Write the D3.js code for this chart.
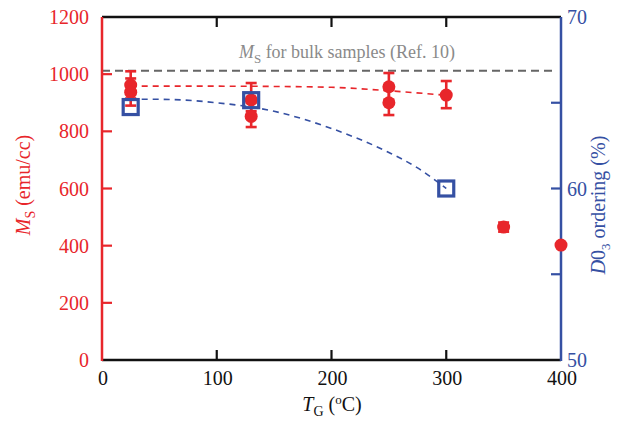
<!DOCTYPE html>
<html><head><meta charset="utf-8">
<script src="https://cdn.jsdelivr.net/npm/d3@7"></script>
<style>body{margin:0;background:#fff}svg{display:block}</style>
</head><body><svg id="c" width="620" height="425" font-family="'Liberation Serif', 'Times New Roman', Times, serif"></svg>
<script>
// Data
const xTicks = [0, 100, 200, 300, 400];
const msTicks = [0, 200, 400, 600, 800, 1000, 1200];
const ordTicks = [50, 55, 60, 65, 70];
const ordLabels = [50, 60, 70];
// Ms points (emu/cc) with error bars
const msT    = [25, 25, 130, 130, 250, 250, 300, 350, 400];
const msVal  = [962, 937, 910, 852, 956, 900, 927, 465, 402];
const msLow  = [915, 890, 870, 815, 910, 857, 881, 449, 402];
const msHigh = [1010, 985, 969, 900, 1004, 945, 976, 481, 402];
// D0_3 ordering (%)
const ordT   = [25, 130, 300];
const ordVal = [64.75, 65.15, 60.0];
// Guide (fit) curves
const msFitT   = [25, 100, 150, 200, 250, 300];
const msFitV   = [958, 958, 957, 954, 942, 926];
const ordFitT  = [25, 50, 100, 150, 200, 250, 275, 300];
const ordFitV  = [65.2, 65.2, 65.0, 64.5, 63.5, 62.1, 61.2, 60.0];
const bulkMs = 1012;

const red = "#e8262b", blue = "#3550a3", black = "#111";
const svg = d3.select("#c");
const L = 102, R = 561, T = 17, B = 360;
const x = d3.scaleLinear().domain([0, 400]).range([L, R]);
const yL = d3.scaleLinear().domain([0, 1200]).range([B, T]);
const yR = d3.scaleLinear().domain([50, 70]).range([B, T]);
const FS = 20;

// fit curves
const line = (ys) => d3.line().x(d => x(d[0])).y(d => ys(d[1])).curve(d3.curveMonotoneX);
svg.append("path").attr("d", line(yR)(ordFitT.map((t,i)=>[t, ordFitV[i]])))
  .attr("fill","none").attr("stroke",blue).attr("stroke-width",1.6).attr("stroke-dasharray","6,5");
svg.append("path").attr("d", line(yL)(msFitT.map((t,i)=>[t, msFitV[i]])))
  .attr("fill","none").attr("stroke",red).attr("stroke-width",1.6).attr("stroke-dasharray","6,5");
// bulk line
svg.append("line").attr("x1",x(0)).attr("x2",x(395)).attr("y1",yL(bulkMs)).attr("y2",yL(bulkMs))
  .attr("stroke","#666").attr("stroke-width",1.8).attr("stroke-dasharray","8,5");
const bt = svg.append("text").attr("x",347).attr("y",58).attr("text-anchor","middle")
  .attr("fill","#8a8a8a").attr("font-size",18);
bt.append("tspan").attr("font-style","italic").text("M");
bt.append("tspan").attr("font-size",13).attr("dy",5).text("S");
bt.append("tspan").attr("dy",-5).text(" for bulk samples (Ref. 10)");

// axes frame
const g = svg.append("g");
g.append("line").attr("x1",L).attr("x2",R).attr("y1",T).attr("y2",T).attr("stroke",black).attr("stroke-width",2.5);
g.append("line").attr("x1",L).attr("x2",R).attr("y1",B).attr("y2",B).attr("stroke",black).attr("stroke-width",2.5);
g.append("line").attr("x1",L).attr("x2",L).attr("y1",T).attr("y2",B+1).attr("stroke",red).attr("stroke-width",2.5);
g.append("line").attr("x1",R).attr("x2",R).attr("y1",T).attr("y2",B+1).attr("stroke",blue).attr("stroke-width",2.5);
xTicks.slice(1,-1).forEach(t=>{
  g.append("line").attr("x1",x(t)).attr("x2",x(t)).attr("y1",B).attr("y2",B-10).attr("stroke",black).attr("stroke-width",2.2);
  g.append("line").attr("x1",x(t)).attr("x2",x(t)).attr("y1",T).attr("y2",T+10).attr("stroke",black).attr("stroke-width",2.2);
});
xTicks.forEach(t=>{
  g.append("text").attr("x",x(t)+1).attr("y",385).attr("text-anchor","middle").attr("font-size",FS).attr("fill",black).text(t);
});
msTicks.forEach(t=>{
  if (t>0 && t<1200) g.append("line").attr("x1",L).attr("x2",L+10).attr("y1",yL(t)).attr("y2",yL(t)).attr("stroke",red).attr("stroke-width",2.2);
  g.append("text").attr("x",89).attr("y",yL(t)+7).attr("text-anchor","end").attr("font-size",FS).attr("fill",red).text(t);
});
ordTicks.forEach(t=>{
  if (t>50 && t<70) g.append("line").attr("x1",R).attr("x2",R-10).attr("y1",yR(t)).attr("y2",yR(t)).attr("stroke",blue).attr("stroke-width",2.2);
});
ordLabels.forEach(t=>{
  g.append("text").attr("x",567).attr("y",yR(t)+7).attr("text-anchor","start").attr("font-size",FS).attr("fill",blue).text(t);
});

// axis titles
const lt = svg.append("text").attr("transform","translate(30,185) rotate(-90)").attr("text-anchor","middle")
  .attr("font-size",FS).attr("fill",red);
lt.append("tspan").attr("font-style","italic").text("M");
lt.append("tspan").attr("font-size",14).attr("dy",5).text("S");
lt.append("tspan").attr("dy",-5).text(" (emu/cc)");
const rt = svg.append("text").attr("transform","translate(605,205) rotate(-90)").attr("text-anchor","middle")
  .attr("font-size",FS).attr("fill",blue);
rt.append("tspan").attr("font-style","italic").text("D");
rt.append("tspan").text("0");
rt.append("tspan").attr("font-size",13).attr("dy",5).text("3");
rt.append("tspan").attr("dy",-5).text(" ordering (%)");
const xt = svg.append("text").attr("x",332).attr("y",411).attr("text-anchor","middle").attr("font-size",FS).attr("fill",black);
xt.append("tspan").attr("font-style","italic").text("T");
xt.append("tspan").attr("font-size",14).attr("dy",5).text("G");
xt.append("tspan").attr("dy",-5).text(" (");
xt.append("tspan").attr("font-size",13).attr("dy",-7).text("o");
xt.append("tspan").attr("dy",7).text("C)");

// error bars and points
const eb = svg.append("g").attr("stroke",red).attr("stroke-width",2.6);
msT.forEach((t,i)=>{
  if (msHigh[i]-msLow[i] < 1) return;
  eb.append("line").attr("x1",x(t)).attr("x2",x(t)).attr("y1",yL(msLow[i])).attr("y2",yL(msHigh[i]));
  eb.append("line").attr("x1",x(t)-5.5).attr("x2",x(t)+5.5).attr("y1",yL(msLow[i])).attr("y2",yL(msLow[i]));
  eb.append("line").attr("x1",x(t)-5.5).attr("x2",x(t)+5.5).attr("y1",yL(msHigh[i])).attr("y2",yL(msHigh[i]));
});
svg.append("g").selectAll("circle").data(msT.map((t,i)=>[t,msVal[i]])).join("circle")
  .attr("cx",d=>x(d[0])).attr("cy",d=>yL(d[1])).attr("r",6.5).attr("fill",red);
svg.append("g").selectAll("rect").data(ordT.map((t,i)=>[t,ordVal[i]])).join("rect")
  .attr("x",d=>x(d[0])-7.5).attr("y",d=>yR(d[1])-7.5).attr("width",15).attr("height",15)
  .attr("fill","none").attr("stroke",blue).attr("stroke-width",3.2);
</script></body></html>
